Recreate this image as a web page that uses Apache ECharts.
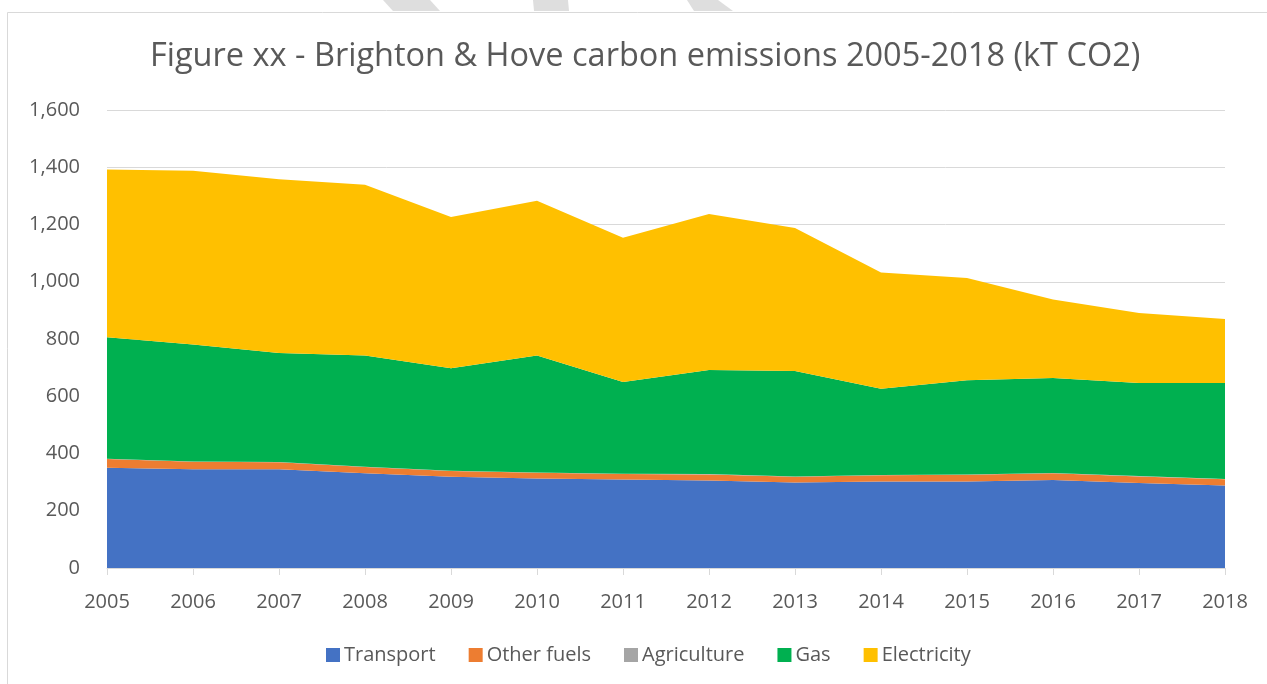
<!DOCTYPE html>
<html>
<head>
<meta charset="utf-8">
<script src="https://cdn.jsdelivr.net/npm/echarts@6/dist/echarts.min.js"></script>
<style>
html,body{margin:0;padding:0;background:#fff;}
#chart{width:1267px;height:684px;}
</style>
</head>
<body>
<div id="chart"></div>
<script>
const years = ['2005','2006','2007','2008','2009','2010','2011','2012','2013','2014','2015','2016','2017','2018'];
const transport   = [350,345,345,331,319,313,309,306,299,302,302,307,297,288];
const otherFuels  = [31,26,24,22,20,20,19,21,20,22,24,24,23,22];
const agriculture = [1,1,1,1,1,1,1,1,1,1,1,1,1,1];
const gas         = [424,409,381,388,358,408,321,364,368,301,329,332,325,335];
const electricity = [586,607,607,597,528,541,504,545,500,406,357,274,245,224];
const yTicks = [0,200,400,600,800,1000,1200,1400,1600];

const FONT = '"Open Sans", "Liberation Sans", sans-serif';
const TXT = '#595959';

const chart = echarts.init(document.getElementById('chart'), null, {renderer:'canvas'});

function mk(name, data, color){
  return {
    name, type:'line', stack:'total', data, symbol:'none', smooth:false,
    lineStyle:{width:0, color}, itemStyle:{color},
    areaStyle:{color, opacity:1}, emphasis:{disabled:true}
  };
}

chart.setOption({
  animation:false,
  backgroundColor:'#fff',
  graphic:[
    {type:'rect', shape:{x:7.5,y:12.5,width:1300,height:700}, style:{fill:'none', stroke:'#d9d9d9', lineWidth:1}, z:-1},
    {type:'polygon', shape:{points:[[383,0],[430,0],[440,11],[393,11]]}, style:{fill:'#dedede'}, z:-1},
    {type:'polygon', shape:{points:[[533,0],[568,0],[569,11],[534,11]]}, style:{fill:'#dedede'}, z:-1},
    {type:'polygon', shape:{points:[[687,0],[718,0],[733,11],[694,11]]}, style:{fill:'#dedede'}, z:-1}
  ],
  title:{
    text:'Figure xx - Brighton & Hove carbon emissions 2005-2018 (kT CO2)',
    left:145, top:35,
    textStyle:{fontFamily:FONT, fontWeight:'normal', fontSize:32.5, color:TXT}
  },
  legend:{
    bottom:14, left:321, itemWidth:14, itemHeight:14, itemGap:33,
    icon:'rect',
    textStyle:{fontFamily:FONT, fontSize:20, color:TXT, padding:[0,0,0,-1]},
    data:['Transport','Other fuels','Agriculture','Gas','Electricity']
  },
  grid:{left:107, right:42, top:110, bottom:116, containLabel:false},
  xAxis:{
    type:'category', data:years, boundaryGap:false,
    axisLine:{lineStyle:{color:'#d9d9d9', width:1}},
    axisTick:{show:true, alignWithLabel:true, length:7, lineStyle:{color:'#d9d9d9'}},
    axisLabel:{fontFamily:FONT, fontSize:20, color:TXT, margin:24}
  },
  yAxis:{
    type:'value', min:0, max:1600, interval:200,
    axisLine:{show:false}, axisTick:{show:false},
    splitLine:{lineStyle:{color:'#d9d9d9', width:1}},
    axisLabel:{fontFamily:FONT, fontSize:20, color:TXT, margin:27,
      formatter:v=> yTicks.includes(v) ? v.toLocaleString('en-US') : ''}
  },
  series:[
    mk('Transport', transport, '#4472C4'),
    mk('Other fuels', otherFuels, '#ED7D31'),
    mk('Agriculture', agriculture, '#A5A5A5'),
    mk('Gas', gas, '#00B050'),
    mk('Electricity', electricity, '#FFC000')
  ]
});
</script>
</body>
</html>
